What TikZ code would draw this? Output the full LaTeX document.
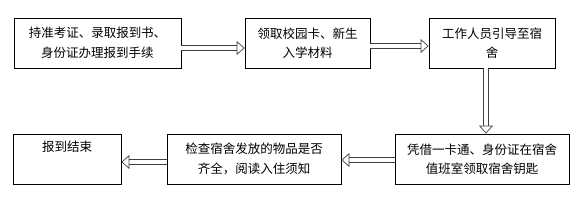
\documentclass[tikz,border=0pt]{standalone}
\usepackage{fontspec}
\newfontfamily\cjk{Noto Sans CJK SC}
\usetikzlibrary{arrows.meta,positioning,calc}

\begin{document}
\begin{tikzpicture}[x=1pt,y=-1pt,font=\cjk\fontsize{12.5}{19.5}\selectfont,
 st/.style={draw,line width=0.8pt,minimum height=50pt,align=center,inner sep=0pt},
 arr/.style={draw=black!75,line width=0.7pt,double=white,double distance=4.5pt,
  -{Triangle[open,length=8pt,width=14pt]}}]
\useasboundingbox (0,0) rectangle (584,218);
\node[st,minimum width=167pt] (reg) at (97.5,43) {持准考证、录取报到书、\\身份证办理报到手续};
\node[st,minimum width=125pt] (card) at (307.5,43) {领取校园卡、新生\\入学材料};
\node[st,minimum width=126pt] (guide) at (492,43) {工作人员引导至宿\\舍};
\node[st,minimum width=174pt] (key) at (482,159) {凭借一卡通、身份证在宿舍\\值班室领取宿舍钥匙};
\node[st,minimum width=174pt] (check) at (254,159) {检查宿舍发放的物品是否\\齐全，阅读入住须知};
\node[st,minimum width=108pt] (done) at (67,159) {报到结束\\\strut};
% arrows between the steps
\draw[arr] ([yshift=-5pt]reg.east) -- ([yshift=-5pt]card.west);
\draw[arr] ([yshift=-3pt]card.east) -- ([yshift=-3pt]guide.west);
\draw[arr] ([xshift=-6pt]guide.south) -- ([xshift=-6pt]guide.south |- key.north);
\draw[arr] ([yshift=-1pt]key.west) -- ([yshift=-1pt]check.west -| check.east);
\draw[arr] ([yshift=-3pt]check.west) -- ([yshift=-3pt]done.east);
\end{tikzpicture}
\end{document}
